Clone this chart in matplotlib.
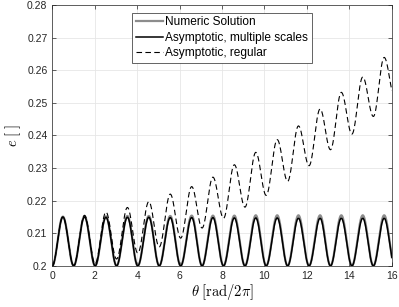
import numpy as np
import matplotlib
matplotlib.use('Agg')
import matplotlib.pyplot as plt

plt.rcParams['font.family'] = ['Liberation Sans', 'DejaVu Sans']
plt.rcParams['mathtext.fontset'] = 'cm'

# turning points (theta, e): trough, peak, trough, ...
theta_ext = [0.0, 0.5, 1.01, 1.52, 2.02, 2.53, 3.03, 3.54, 4.03, 4.55, 5.04,
             5.56, 6.05, 6.57, 7.06, 7.57, 8.07, 8.58, 9.08, 9.59, 10.08,
             10.6, 11.09, 11.6, 12.1, 12.62, 13.11, 13.62, 14.12, 14.63,
             15.13, 15.64, 16.14]

e_numeric = [0.2, 0.2151, 0.2, 0.2152, 0.2, 0.2152, 0.2, 0.2153, 0.2, 0.2153,
             0.2, 0.2153, 0.2, 0.2154, 0.2, 0.2154, 0.2, 0.2154, 0.2, 0.2155,
             0.2, 0.2155, 0.2, 0.2155, 0.2, 0.2155, 0.2, 0.2155, 0.2, 0.2155,
             0.2, 0.2155, 0.2]

e_multi = [0.2, 0.2150, 0.2, 0.2150, 0.2, 0.2149, 0.2, 0.2149, 0.2, 0.2149,
           0.2, 0.2148, 0.2, 0.2148, 0.2, 0.2148, 0.2, 0.2147, 0.2, 0.2147,
           0.2, 0.2147, 0.2, 0.2146, 0.2, 0.2146, 0.2, 0.2146, 0.2, 0.2146,
           0.2, 0.2146, 0.2]

e_regular = [0.2, 0.2150, 0.2001, 0.2155, 0.2007, 0.2165, 0.2021, 0.2179,
             0.2039, 0.2197, 0.2058, 0.2220, 0.2085, 0.2243, 0.2116, 0.2272,
             0.2146, 0.2310, 0.2180, 0.2348, 0.2216, 0.2387, 0.2259, 0.2429,
             0.2307, 0.2481, 0.2356, 0.2532, 0.2404, 0.2579, 0.2458, 0.2639,
             0.2515]


def smooth(tx, vx, n=40):
    # half-cosine between neighbouring turning points
    ts, vs = [], []
    for i in range(len(tx) - 1):
        s = np.linspace(0, 1, n, endpoint=False)
        ts.append(tx[i] + (tx[i + 1] - tx[i]) * s)
        vs.append(vx[i] + (vx[i + 1] - vx[i]) * (1 - np.cos(np.pi * s)) / 2)
    ts.append([tx[-1]])
    vs.append([vx[-1]])
    return np.concatenate(ts), np.concatenate(vs)


fig = plt.figure(figsize=(3.99, 3.07), dpi=100)
ax = fig.add_axes([0.131, 0.134, 0.851, 0.850])

t, v = smooth(theta_ext, e_numeric)
ax.plot(t, v, color=(0.55, 0.55, 0.55), lw=1.6, label='Numeric Solution')
t, v = smooth(theta_ext, e_multi)
ax.plot(t, v, color='black', lw=1.1, label='Asymptotic, multiple scales')
t, v = smooth(theta_ext, e_regular)
ax.plot(t, v, color='black', lw=0.8, ls=(0, (5, 3)), label='Asymptotic, regular')

ax.set_xlim(0, 16)
ax.set_ylim(0.2, 0.28)
ax.set_xticks(np.arange(0, 17, 2))
yt = [0.2, 0.21, 0.22, 0.23, 0.24, 0.25, 0.26, 0.27, 0.28]
ax.set_yticks(yt)
ax.set_yticklabels(['0.2', '0.21', '0.22', '0.23', '0.24', '0.25', '0.26', '0.27', '0.28'])
ax.tick_params(direction='in', length=3, width=0.5, labelsize=7.5, colors=(0.15, 0.15, 0.15),
               top=True, right=True)
ax.grid(True, color=(0.9, 0.9, 0.9), lw=0.6)
ax.set_axisbelow(True)
for sp in ax.spines.values():
    sp.set_color((0.15, 0.15, 0.15))
    sp.set_linewidth(0.5)

ax.set_xlabel(r'$\theta\;[\mathrm{rad}/2\pi]$', fontsize=10.5, labelpad=1)
ax.set_ylabel(r'$e\;[\ ]$', fontsize=10.5, labelpad=3)

leg = ax.legend(loc='upper center', bbox_to_anchor=(0.5, 0.97), fontsize=8.6,
                fancybox=False, framealpha=1, edgecolor=(0.15, 0.15, 0.15),
                handlelength=2.3, handletextpad=0.15, borderpad=0.3, labelspacing=0.3,
                borderaxespad=0)
leg.get_frame().set_linewidth(0.5)

fig.savefig('out.png', dpi=100)
